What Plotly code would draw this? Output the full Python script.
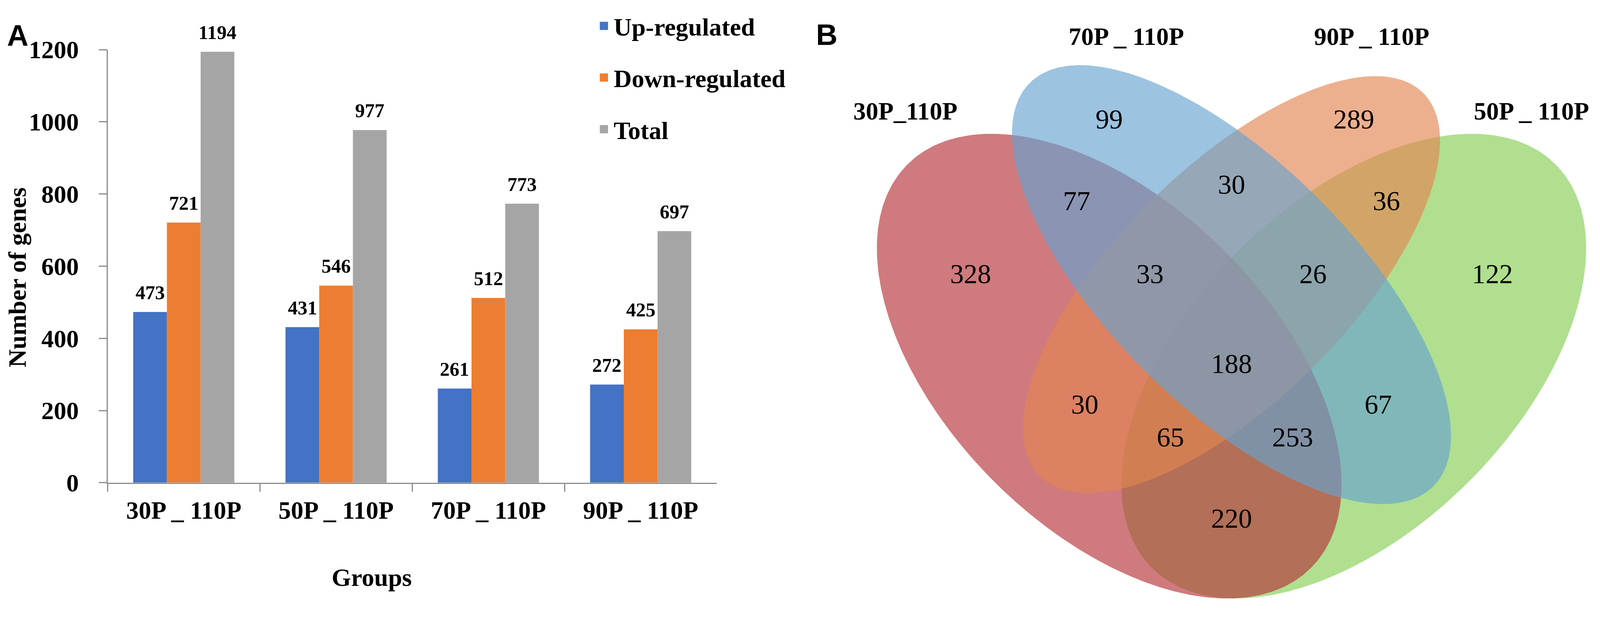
import numpy as np
import plotly.graph_objects as go

# ---------------- data: panel A ----------------
groups = ["30P _ 110P", "50P _ 110P", "70P _ 110P", "90P _ 110P"]
up_regulated = [473, 431, 261, 272]
down_regulated = [721, 546, 512, 425]
total = [1194, 977, 773, 697]
series_names = ["Up-regulated", "Down-regulated", "Total"]
y_ticks = [0, 200, 400, 600, 800, 1000, 1200]

# ---------------- data: panel B ----------------
set_names = ["30P_110P", "70P _ 110P", "90P _ 110P", "50P _ 110P"]
set_codes = ["A", "B", "C", "D"]
region_codes = ["A", "B", "C", "D", "AB", "AC", "AD", "BC", "BD", "CD",
                "ABC", "ABD", "ACD", "BCD", "ABCD"]
region_counts = [328, 99, 289, 122, 77, 30, 220, 30, 67, 36,
                 33, 253, 65, 26, 188]

# ---------------- styling / layout constants ----------------
W, H = 4317, 1595
M = 8                      # default body margin of the html page
FW, FH = W - 2 * M, H - 2 * M
SERIF = "Liberation Serif"
SANS = "Liberation Sans"
SERIES_COLORS = ["#4472C4", "#ED7D31", "#A5A5A5"]
AXIS_COLOR = "#8C8C8C"
BARGAP = 0.336


def px(x):
    return (x - M) / FW


def py(y):
    return 1 - (y - M) / FH


# Venn geometry (VennDiagram quad layout, unit coordinates)
VENN_RGB = {"A": (181, 50, 57), "B": (103, 163, 207),
            "C": (227, 133, 81), "D": (133, 206, 83)}
VENN_ALPHA = 0.65
ELLIPSES = {"A": (0.35, 0.47, 0.35, 0.20, -45),
            "B": (0.50, 0.57, 0.35, 0.15, -45),
            "C": (0.50, 0.57, 0.3325, 0.1425, 45),
            "D": (0.65, 0.47, 0.35, 0.20, 45)}
DRAW_ORDER = ["D", "A", "C", "B"]
REGION_LABEL_POS = {"B": (0.35, 0.77), "BC": (0.5, 0.69), "C": (0.65, 0.77),
                    "AB": (0.31, 0.67), "ABC": (0.40, 0.58), "ABCD": (0.5, 0.47),
                    "BCD": (0.60, 0.58), "CD": (0.69, 0.67), "A": (0.18, 0.58),
                    "AC": (0.32, 0.42), "ACD": (0.425, 0.38), "AD": (0.5, 0.28),
                    "ABD": (0.575, 0.38), "BD": (0.68, 0.42), "D": (0.82, 0.58)}
SET_LABEL_POS = {"A": (0.10, 0.78), "B": (0.371, 0.872),
                 "C": (0.672, 0.872), "D": (0.868, 0.78)}
# placement of the unit square on the page (screen px)
VX0, VY0, SX, SY = 3323, 726, 2200, 2185
VENN_BOX = (2150, 4300, 10, 1585)   # left, right, top, bottom (px)

fig = go.Figure()

# ---------------- panel A: grouped bars ----------------
series_values = [up_regulated, down_regulated, total]
for name, vals, col in zip(series_names, series_values, SERIES_COLORS):
    fig.add_trace(go.Bar(x=groups, y=vals, name=name, marker_color=col,
                         marker_line_width=0, showlegend=False,
                         xaxis="x", yaxis="y", hoverinfo="x+y+name"))
# legend entries (square swatches)
for name, col in zip(series_names, SERIES_COLORS):
    fig.add_trace(go.Scatter(x=[None], y=[None], mode="markers", name=name,
                             legendgroup=name,
                             marker=dict(symbol="square", size=16, color=col,
                                         line=dict(color=col, width=5)),
                             xaxis="x", yaxis="y"))

annotations = []
bw = (1 - BARGAP) / len(series_values)
for k, vals in enumerate(series_values):
    for i, v in enumerate(vals):
        annotations.append(dict(
            x=i + (k - 1) * bw, y=v, xref="x", yref="y", text=str(v),
            showarrow=False, yanchor="bottom", xanchor="center", yshift=20,
            font=dict(family=SERIF, size=50, color="black", weight="bold")))

# ---------------- panel B: Venn diagram ----------------
phi = np.linspace(0, 2 * np.pi, 361)
for code in DRAW_ORDER:
    cx, cy, a, b, ang = ELLIPSES[code]
    t = np.deg2rad(ang)
    ex = cx + a * np.cos(phi) * np.cos(t) - b * np.sin(phi) * np.sin(t)
    ey = cy + a * np.cos(phi) * np.sin(t) + b * np.sin(phi) * np.cos(t)
    r, g, bb = VENN_RGB[code]
    fig.add_trace(go.Scatter(x=ex, y=ey, mode="lines", fill="toself",
                             fillcolor=f"rgba({r},{g},{bb},{VENN_ALPHA})",
                             line=dict(width=0), hoverinfo="skip",
                             showlegend=False, xaxis="x2", yaxis="y2"))

fig.add_trace(go.Scatter(
    x=[REGION_LABEL_POS[c][0] for c in region_codes],
    y=[REGION_LABEL_POS[c][1] for c in region_codes],
    text=[str(n) for n in region_counts], mode="text",
    textposition="middle center",
    textfont=dict(family=SERIF, size=70, color="black"),
    hoverinfo="skip", showlegend=False, xaxis="x2", yaxis="y2"))

fig.add_trace(go.Scatter(
    x=[SET_LABEL_POS[c][0] for c in set_codes],
    y=[SET_LABEL_POS[c][1] for c in set_codes],
    text=set_names, mode="text", textposition="middle center",
    textfont=dict(family=SERIF, size=64, color="black", weight="bold"),
    hoverinfo="skip", showlegend=False, xaxis="x2", yaxis="y2"))

# ---------------- titles / panel letters ----------------
annotations += [
    dict(text="Number of genes", x=px(47), y=py(706), xref="paper", yref="paper",
         textangle=-90, showarrow=False, xanchor="center", yanchor="middle",
         font=dict(family=SERIF, size=64, color="black", weight="bold")),
    dict(text="Groups", x=px(1003), y=py(1511), xref="paper", yref="paper",
         showarrow=False, xanchor="center", yanchor="middle",
         font=dict(family=SERIF, size=64, color="black", weight="bold")),
    dict(text="A", x=px(48), y=py(58), xref="paper", yref="paper",
         showarrow=False, xanchor="center", yanchor="middle",
         font=dict(family=SANS, size=76, color="black", weight="bold")),
    dict(text="B", x=px(2231), y=py(56), xref="paper", yref="paper",
         showarrow=False, xanchor="center", yanchor="middle",
         font=dict(family=SANS, size=76, color="black", weight="bold")),
]

vl, vr, vt, vb = VENN_BOX
fig.update_layout(
    autosize=True,
    margin=dict(l=0, r=0, t=0, b=0, pad=0),
    paper_bgcolor="white", plot_bgcolor="white",
    barmode="group", bargap=BARGAP, bargroupgap=0,
    showlegend=True,
    legend=dict(x=px(1603), y=py(-18), xanchor="left", yanchor="top",
                font=dict(family=SERIF, size=64, color="black", weight="bold"),
                itemwidth=40, tracegroupgap=46, bgcolor="rgba(0,0,0,0)",
                borderwidth=0),
    xaxis=dict(domain=[px(290), px(1934)], type="category",
               categoryorder="array", categoryarray=groups,
               showline=True, linecolor=AXIS_COLOR, linewidth=3,
               ticks="outside", tickson="boundaries", ticklen=20,
               tickwidth=3, tickcolor=AXIS_COLOR, showgrid=False,
               zeroline=False, ticklabelstandoff=12,
               tickfont=dict(family=SERIF, size=64, color="black", weight="bold"),
               anchor="y"),
    yaxis=dict(domain=[py(1257), py(96)], range=[0, 1200],
               tickvals=y_ticks, showline=True, linecolor=AXIS_COLOR,
               linewidth=3, ticks="outside", ticklen=20, tickwidth=3,
               tickcolor=AXIS_COLOR, showgrid=False, zeroline=False,
               ticklabelstandoff=38,
               tickfont=dict(family=SERIF, size=64, color="black", weight="bold"),
               anchor="x"),
    xaxis2=dict(domain=[px(vl), px(vr)],
                range=[0.5 + (vl - VX0) / SX, 0.5 + (vr - VX0) / SX],
                visible=False, anchor="y2"),
    yaxis2=dict(domain=[py(vb), py(vt)],
                range=[0.57 - (vb - VY0) / SY, 0.57 - (vt - VY0) / SY],
                visible=False, anchor="x2"),
    annotations=annotations,
)

fig.write_html("out.html")
